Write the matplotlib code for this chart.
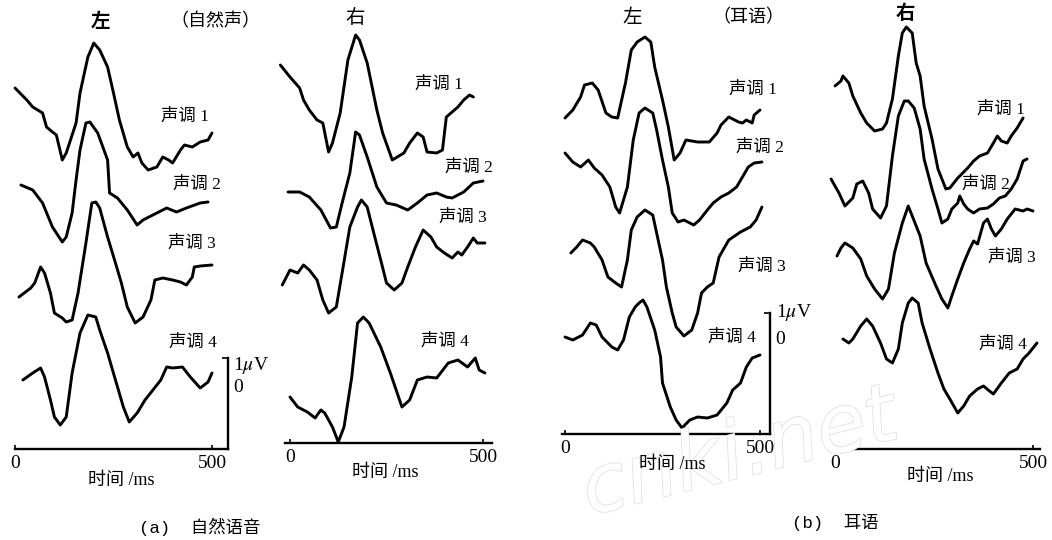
"""ERP waveforms for four tones, left/right hemisphere, natural speech vs whisper (scan redraw).
Amplitudes are in uV above each panel's time axis (traces already stacked), times in ms.
"""
import matplotlib
matplotlib.use("Agg")
import matplotlib.pyplot as plt
import matplotlib.patheffects as pe
from matplotlib.ticker import FixedLocator

W, H = 1052, 540
PX_PER_UV = 25.0
CJK = ["Liberation Serif", "Noto Sans CJK SC"]
plt.rcParams["mathtext.fontset"] = "stix"

TONES = ["声调 1", "声调 2", "声调 3", "声调 4"]

# ---- (a) natural speech, left ----
nat_l_t1 = [0, 30, 45, 70, 80, 95, 105, 120, 130, 155, 165, 185, 200, 215, 235, 250, 265, 285, 300,
            312, 322, 338, 360, 375, 390, 400, 420, 430, 450, 470, 490, 500]
nat_l_v1 = [14.44, 13.96, 13.68, 13.44, 12.88, 12.68, 12.56, 11.56, 11.84, 13.04, 14.24, 15.68, 16.24,
            15.96, 15.28, 14.24, 13.16, 12.08, 11.68, 11.84, 11.44, 11.16, 11.28, 11.68, 11.56, 11.44,
            11.96, 12.16, 12.08, 12.28, 12.36, 12.64]
nat_l_t2 = [15, 45, 70, 95, 120, 130, 145, 155, 165, 180, 190, 210, 235, 240, 260, 285, 310, 325, 350,
            385, 410, 435, 470, 490]
nat_l_v2 = [10.56, 10.36, 9.84, 8.88, 8.28, 8.48, 9.44, 10.76, 11.96, 13.04, 13.08, 12.64, 11.56, 10.24,
            10.04, 9.56, 8.96, 9.16, 9.36, 9.64, 9.48, 9.64, 9.84, 9.88]
nat_l_t3 = [10, 40, 50, 65, 75, 90, 100, 120, 130, 145, 160, 180, 195, 205, 215, 235, 255, 270, 285,
            305, 325, 345, 355, 375, 400, 420, 435, 450, 455, 470, 500]
nat_l_v3 = [6.08, 6.44, 6.64, 7.28, 7.04, 6.24, 5.44, 5.24, 5.08, 5.16, 6.24, 8.24, 9.84, 9.88, 9.64,
            8.48, 7.44, 6.64, 5.68, 5.04, 5.28, 5.96, 6.76, 6.84, 6.76, 6.68, 6.56, 6.88, 7.28, 7.32, 7.36]
nat_l_t4 = [20, 45, 65, 75, 90, 100, 115, 130, 145, 165, 185, 205, 215, 235, 255, 275, 290, 310, 330,
            350, 370, 385, 400, 425, 445, 470, 490, 500]
nat_l_v4 = [2.76, 3.04, 3.24, 2.88, 1.96, 1.28, 0.96, 1.28, 3.04, 4.64, 5.36, 5.28, 4.76, 3.84, 2.76,
            1.68, 1.08, 1.44, 1.96, 2.36, 2.76, 3.28, 3.24, 3.28, 2.88, 2.44, 2.68, 3.04]

# ---- (a) natural speech, right ----
nat_r_t1 = [-25, 0, 25, 35, 50, 70, 85, 100, 110, 130, 150, 170, 180, 200, 225, 240, 265, 295, 310,
            330, 345, 355, 380, 395, 405, 435, 450, 465, 475]
nat_r_v1 = [15.12, 14.64, 14.2, 13.72, 13.32, 12.92, 12.8, 11.64, 12.0, 13.2, 15.32, 16.32, 16.12, 15.2,
            13.32, 12.4, 11.32, 11.6, 12.0, 12.4, 12.24, 11.64, 11.6, 11.72, 13.04, 13.44, 13.72, 13.92,
            13.84]
nat_r_t2 = [-5, 25, 50, 80, 105, 120, 135, 155, 170, 180, 200, 225, 250, 275, 305, 330, 355, 380, 405,
            420, 450, 475, 500]
nat_r_v2 = [10.04, 10.04, 9.84, 9.32, 8.6, 8.64, 9.6, 10.8, 12.44, 12.32, 11.44, 10.24, 9.6, 9.52, 9.32,
            9.6, 9.92, 10.0, 9.84, 9.8, 10.04, 10.4, 10.48]
nat_r_t3 = [-20, 0, 20, 35, 50, 70, 85, 100, 120, 135, 155, 175, 185, 200, 215, 235, 250, 270, 290,
            305, 325, 345, 365, 380, 400, 420, 435, 445, 460, 475, 485, 505]
nat_r_v3 = [6.32, 6.92, 6.8, 7.12, 6.92, 6.52, 5.72, 5.2, 5.44, 6.8, 8.64, 9.44, 9.72, 9.44, 8.52, 7.32,
            6.4, 6.12, 6.4, 7.04, 7.84, 8.52, 8.24, 7.84, 7.6, 7.4, 7.64, 7.52, 7.84, 8.2, 8.0, 8.0]
nat_r_t4 = [0, 20, 45, 65, 80, 90, 110, 125, 140, 160, 175, 190, 205, 235, 260, 290, 310, 330, 355,
            380, 410, 435, 460, 480, 490, 505]
nat_r_v4 = [1.84, 1.44, 1.24, 1.0, 1.32, 1.2, 0.64, 0.04, 0.64, 2.64, 4.8, 5.04, 4.8, 3.84, 2.8, 1.44,
            1.72, 2.52, 2.64, 2.6, 3.2, 3.32, 3.04, 3.4, 2.92, 2.8]

# ---- (b) whisper, left ----
whi_l_t1 = [0, 20, 40, 50, 70, 85, 105, 120, 135, 155, 170, 185, 205, 220, 230, 250, 265, 280, 295,
            310, 340, 370, 390, 400, 420, 445, 455, 465, 480, 485, 500]
whi_l_v1 = [12.64, 12.96, 13.48, 13.96, 14.04, 13.76, 12.84, 12.68, 12.64, 14.04, 15.36, 15.68, 15.88,
            15.68, 14.68, 13.36, 12.28, 10.96, 11.24, 11.76, 11.68, 11.68, 12.04, 12.36, 12.68, 12.48,
            12.44, 12.56, 12.44, 12.76, 12.96]
whi_l_t2 = [0, 20, 40, 60, 75, 95, 115, 130, 140, 160, 175, 190, 205, 225, 235, 250, 265, 275, 290,
            305, 330, 345, 365, 380, 400, 420, 440, 455, 470, 485, 505]
whi_l_v2 = [11.24, 10.88, 10.68, 10.96, 10.64, 10.36, 9.88, 9.08, 8.84, 9.88, 11.76, 12.84, 13.04,
            12.84, 12.16, 10.96, 9.88, 8.84, 8.48, 8.56, 8.36, 8.56, 8.96, 9.24, 9.48, 9.64, 9.88, 10.28,
            10.68, 10.84, 10.88]
whi_l_t3 = [15, 30, 45, 65, 75, 95, 110, 130, 145, 160, 170, 185, 205, 225, 235, 250, 260, 275, 285,
            305, 325, 340, 350, 365, 380, 395, 420, 450, 475, 490, 505]
whi_l_v3 = [7.24, 7.48, 7.76, 7.64, 7.48, 6.96, 6.28, 6.04, 5.88, 6.96, 8.16, 8.68, 8.96, 8.76, 8.04,
            6.96, 5.88, 4.84, 4.28, 3.92, 4.16, 4.84, 5.64, 5.88, 6.04, 7.08, 7.76, 8.08, 8.28, 8.56, 9.08]
whi_l_t4 = [0, 20, 45, 65, 80, 95, 120, 135, 150, 165, 180, 190, 200, 210, 230, 245, 250, 270, 285,
            300, 320, 340, 365, 390, 415, 430, 450, 465, 480, 500]
whi_l_v4 = [3.88, 3.76, 3.96, 4.44, 4.36, 3.88, 3.48, 3.36, 3.76, 4.68, 5.08, 5.24, 5.36, 5.08, 4.16,
            3.08, 2.04, 1.08, 0.56, 0.24, 0.56, 0.68, 0.64, 0.76, 1.24, 1.76, 2.04, 2.68, 3.04, 3.16]

# ---- (b) whisper, right ----
whi_r_t1 = [0, 15, 20, 35, 45, 65, 80, 100, 120, 130, 145, 160, 170, 180, 195, 205, 215, 225, 245, 260,
            280, 290, 310, 335, 350, 365, 385, 400, 410, 420, 435, 445, 460, 475]
whi_r_v1 = [14.52, 14.72, 14.92, 14.64, 14.12, 13.44, 13.04, 12.72, 12.8, 13.04, 14.0, 15.72, 16.64,
            16.88, 16.64, 15.44, 14.92, 13.72, 12.4, 11.2, 10.4, 10.44, 10.84, 11.24, 11.52, 11.72, 11.84,
            12.24, 12.52, 12.32, 12.24, 12.52, 12.84, 13.24]
whi_r_t2 = [-10, 10, 25, 45, 55, 70, 85, 95, 115, 130, 145, 160, 175, 185, 200, 215, 225, 245, 260, 270,
            285, 295, 310, 315, 325, 335, 350, 365, 385, 400, 415, 430, 445, 460, 475, 485]
whi_r_v2 = [10.8, 10.24, 9.72, 10.04, 10.6, 10.72, 10.24, 9.6, 9.24, 9.72, 11.72, 13.32, 13.92, 13.92,
            13.64, 12.8, 11.6, 10.4, 9.6, 9.04, 9.2, 9.6, 9.84, 10.12, 9.8, 9.6, 9.44, 9.6, 9.64, 9.8,
            10.04, 10.12, 10.4, 10.8, 11.52, 11.6]
whi_r_t3 = [5, 15, 25, 45, 65, 80, 100, 120, 135, 150, 170, 185, 195, 215, 230, 255, 270, 285, 295, 310,
            325, 340, 350, 360, 375, 385, 395, 405, 420, 435, 455, 475, 485, 500]
whi_r_v3 = [7.72, 8.04, 8.24, 8.04, 7.6, 6.92, 6.4, 6.0, 6.4, 7.84, 9.04, 9.72, 9.32, 8.52, 7.44, 6.52,
            6.0, 5.64, 6.12, 6.8, 7.44, 8.0, 8.32, 8.2, 9.04, 9.2, 8.8, 8.52, 8.8, 9.2, 9.6, 9.52, 9.6,
            9.52]
whi_r_t4 = [20, 35, 45, 65, 80, 95, 115, 130, 145, 160, 170, 185, 195, 210, 220, 240, 260, 275, 290,
            310, 325, 340, 360, 375, 390, 400, 420, 440, 460, 475, 490, 510]
whi_r_v4 = [4.4, 4.24, 4.4, 4.92, 5.2, 4.92, 4.24, 3.6, 3.44, 4.0, 5.04, 5.84, 6.04, 5.84, 5.04, 4.0,
            3.04, 2.4, 2.0, 1.44, 1.72, 2.12, 2.4, 2.52, 2.32, 2.2, 2.64, 3.04, 3.2, 3.6, 3.84, 4.24]

# layout per panel: pixel x of 0 ms, pixel x of 500 ms, pixel y of time axis, axis extent (ms)
PANELS = [
    dict(t=[nat_l_t1, nat_l_t2, nat_l_t3, nat_l_t4], v=[nat_l_v1, nat_l_v2, nat_l_v3, nat_l_v4],
         x0=15, x500=212, y0=449, span=(0, 540), bar=(3.64, 2.56, 3.48),
         labels=[(185, 117), (197, 185), (192, 244), (193, 343)]),
    dict(t=[nat_r_t1, nat_r_t2, nat_r_t3, nat_r_t4], v=[nat_r_v1, nat_r_v2, nat_r_v3, nat_r_v4],
         x0=290, x500=483, y0=443, span=(-13, 523), bar=None,
         labels=[(439, 85), (469, 168), (463, 218), (445, 342)]),
    dict(t=[whi_l_t1, whi_l_t2, whi_l_t3, whi_l_t4], v=[whi_l_v1, whi_l_v2, whi_l_v3, whi_l_v4],
         x0=565, x500=760, y0=434, span=(-8, 526), bar=(4.84, 3.84, 4.96),
         labels=[(753, 90), (760, 148), (762, 267), (732, 338)]),
    dict(t=[whi_r_t1, whi_r_t2, whi_r_t3, whi_r_t4], v=[whi_r_v1, whi_r_v2, whi_r_v3, whi_r_v4],
         x0=835, x500=1033, y0=449, span=(-8, 518), bar=None,
         labels=[(1001, 110), (986, 185), (1012, 258), (1003, 345)]),
]


def px(x, y):
    return x / W, 1 - y / H


def make_axes(fig, p):
    sx = (p["x500"] - p["x0"]) / 500.0
    L, R, T, B = p["x0"] - 40, p["x0"] + 250, 0, p["y0"] + 6
    ax = fig.add_axes([L / W, 1 - B / H, (R - L) / W, (B - T) / H])
    ax.set_xlim((L - p["x0"]) / sx, (R - p["x0"]) / sx)
    ax.set_ylim((p["y0"] - B) / PX_PER_UV, (p["y0"] - T) / PX_PER_UV)
    ax.patch.set_visible(False)
    for s in ("top", "left", "right"):
        ax.spines[s].set_visible(False)
    ax.spines["bottom"].set_position(("data", 0))
    ax.spines["bottom"].set_bounds(*p["span"])
    ax.spines["bottom"].set_linewidth(1.7)
    ax.set_xticks([0, 500])
    ax.set_xticklabels(["0", "500"], fontfamily="Liberation Serif", fontsize=14)
    ax.tick_params(axis="x", direction="in", length=3, width=1.2, pad=4)
    ax.set_yticks([])
    if p["bar"]:
        top, zero, one = p["bar"]
        ax.spines["right"].set_visible(True)
        ax.spines["right"].set_position(("data", p["span"][1]))
        ax.spines["right"].set_bounds(0, top)
        ax.spines["right"].set_linewidth(1.7)
        ax.yaxis.tick_right()
        ax.set_yticks([zero, one])
        ax.set_yticklabels(["0", "1$\\mu$V"], fontfamily="Liberation Serif", fontsize=14)
        ax.yaxis.set_minor_locator(FixedLocator([top]))
        ax.tick_params(axis="y", which="major", length=0, pad=4)
        ax.tick_params(axis="y", which="minor", direction="in", length=4, width=1.2)
    return ax


fig = plt.figure(figsize=(W / 100, H / 100), dpi=100)
fig.patch.set_facecolor("white")

# faint outlined scanner watermark
fig.text(*px(740, 455), "cnki.net", fontsize=58, color="white", fontfamily="DejaVu Sans",
         fontstyle="italic", rotation=14, ha="center", va="center", zorder=0,
         path_effects=[pe.Stroke(linewidth=1.0, foreground="#dcdcdc"), pe.Normal()])

for p in PANELS:
    ax = make_axes(fig, p)
    for t, v in zip(p["t"], p["v"]):
        ax.plot(t, v, color="black", lw=2.1, solid_joinstyle="round", solid_capstyle="round")
    for name, (lx, ly) in zip(TONES, p["labels"]):
        fig.text(*px(lx, ly), name, family=CJK, fontsize=12.5, ha="center", va="center")

# axis captions
for lx, ly in [(121, 480), (385, 472), (672, 465), (940, 476)]:
    fig.text(*px(lx, ly), "时间 /ms", family=CJK, fontsize=13, ha="center", va="center")

# column headings
fig.text(*px(100, 22), "左", family=CJK, fontsize=14, fontweight="bold", ha="center", va="center")
fig.text(*px(215, 22), "（自然声）", family=CJK, fontsize=13, ha="center", va="center")
fig.text(*px(355, 18), "右", family=CJK, fontsize=14, ha="center", va="center")
fig.text(*px(632, 18), "左", family=CJK, fontsize=14, ha="center", va="center")
fig.text(*px(748, 18), "（耳语）", family=CJK, fontsize=13, ha="center", va="center")
fig.text(*px(905, 14), "右", family=CJK, fontsize=14, fontweight="bold", ha="center", va="center")

fig.text(*px(200, 527), "(a)  自然语音", family=["Liberation Mono", "Noto Sans CJK SC"],
         fontsize=12.5, ha="center", va="center")
fig.text(*px(835, 522), "(b)  耳语", family=["Liberation Mono", "Noto Sans CJK SC"],
         fontsize=12.5, ha="center", va="center")

fig.savefig("out.png", dpi=100, facecolor="white")
